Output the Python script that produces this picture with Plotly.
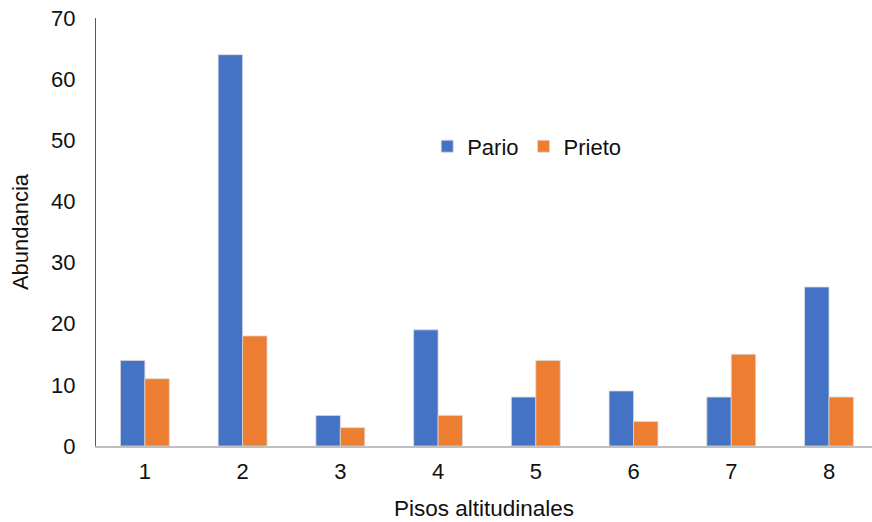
import plotly.graph_objects as go

# Abundance per altitudinal floor for two sampling sources
pisos = [1, 2, 3, 4, 5, 6, 7, 8]
pario = [14, 64, 5, 19, 8, 9, 8, 26]
prieto = [11, 18, 3, 5, 14, 4, 15, 8]

blue = "#4472C4"
orange = "#ED7D31"
font_family = "Liberation Sans, Arial, sans-serif"

fig = go.Figure()
fig.add_trace(go.Bar(x=pisos, y=pario, name="Pario", marker=dict(color=blue, line=dict(color="#D9D9D9", width=0.8))))
fig.add_trace(go.Bar(x=pisos, y=prieto, name="Prieto", marker=dict(color=orange, line=dict(color="#D9D9D9", width=0.8))))

fig.update_layout(
    width=872,
    height=522,
    margin=dict(l=96, r=0, t=18, b=76),
    paper_bgcolor="white",
    plot_bgcolor="white",
    barmode="group",
    bargap=0.5,
    bargroupgap=0,
    font=dict(family=font_family, size=22, color="#111111"),
    legend=dict(
        orientation="h",
        x=0.555,
        y=0.70,
        xanchor="center",
        yanchor="middle",
        font=dict(size=22),
        bgcolor="rgba(0,0,0,0)",
        itemwidth=30,
    ),
    xaxis=dict(
        range=[0.5, 8.44],
        tickvals=pisos,
        ticktext=[str(p) for p in pisos],
        showgrid=False,
        zeroline=False,
        showline=True,
        linecolor="#BFBFBF",
        linewidth=1.5,
        ticks="",
        ticklabelstandoff=5,
        title=dict(text="Pisos altitudinales", font=dict(size=22.5), standoff=17),
    ),
    yaxis=dict(
        range=[0, 70],
        dtick=10,
        showgrid=False,
        zeroline=False,
        showline=True,
        linecolor="#595959",
        linewidth=1,
        ticks="",
        ticklabelstandoff=15,
        title=dict(text="Abundancia", font=dict(size=22), standoff=16),
    ),
)

fig.write_html("out.html")
